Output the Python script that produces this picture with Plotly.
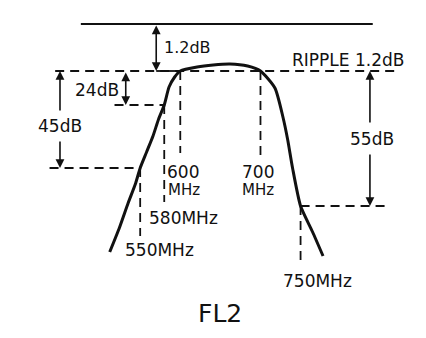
import plotly.graph_objects as go

# FL2 band-pass response sketch.
# x: frequency (MHz); y: drawing depth below the 0 dB reference (rows, downward).
FREQ_MHZ = [512, 524, 535, 544, 550, 558, 566, 573, 580, 586, 593, 600,
            621, 641, 662, 684, 700, 718, 728, 734, 740, 750, 765, 778]
DEPTH = [252, 228, 203, 184, 168, 152, 136, 119, 105, 87, 77, 71,
         67, 65, 64, 66, 71, 88, 117, 140, 168, 206, 232, 256]

# Marked frequencies on the skirts and passband edges
MARK_FREQS = [550, 580, 600, 700, 750]
MARK_TEXT = ["550MHz", "580MHz", "600", "700", "750MHz"]

# Dimension labels
RIPPLE_TEXT = "RIPPLE 1.2dB"
DIM_TEXT = ["1.2dB", "24dB", "45dB", "55dB"]
TITLE = "FL2"

INK = "#111111"
FONT = "DejaVu Sans"

# drawing rows of the reference levels
Y_REF, Y_PASS, Y_24, Y_45, Y_55 = 24, 71, 105, 168, 206

fig = go.Figure()

# response curve
fig.add_trace(go.Scatter(
    x=FREQ_MHZ, y=DEPTH, mode="lines",
    line=dict(color=INK, width=3, shape="spline", smoothing=0.6),
    hoverinfo="skip", showlegend=False))


def seg(x0, x1, y0, y1, dash=None, width=1.8):
    fig.add_trace(go.Scatter(
        x=[x0, x1], y=[y0, y1], mode="lines",
        line=dict(color=INK, width=width, dash=dash),
        hoverinfo="skip", showlegend=False))


DASH = "9px,6px"

# 0 dB reference line and passband level
seg(476, 840, Y_REF, Y_REF, width=2)
seg(444, 874, Y_PASS, Y_PASS, dash=DASH)
seg(570, 597, Y_PASS, Y_PASS, width=1.8)
# attenuation levels
seg(518, 580, Y_24, Y_24, dash=DASH)
seg(437, 550, Y_45, Y_45, dash=DASH)
seg(750, 858, Y_55, Y_55, dash=DASH)

# dashed drop lines at the marked frequencies
drop_spans = {550: (Y_45, 236), 580: (Y_24, 202), 600: (Y_PASS, 153),
              700: (Y_PASS, 155), 750: (Y_55, 266)}
for f in MARK_FREQS:
    y0, y1 = drop_spans[f]
    seg(f, f, y0, y1, dash=DASH)

annotations = []


def arrow(x, y_from, y_to, both=False):
    annotations.append(dict(
        x=x, y=y_to, ax=x, ay=y_from, xref="x", yref="y", axref="x", ayref="y",
        text="", showarrow=True, arrowhead=2, startarrowhead=2, arrowsize=1.1,
        startarrowsize=1.1, arrowwidth=1.6, arrowcolor=INK,
        arrowside="end+start" if both else "end"))


# 1.2 dB insertion loss, 24 dB, 45 dB, 55 dB dimensions
arrow(570, Y_REF, Y_PASS, both=True)
arrow(532, Y_PASS, Y_24, both=True)
arrow(450, 112, Y_PASS)
arrow(450, 140, Y_45)
arrow(836.5, 124, Y_PASS)
arrow(836.5, 153, Y_55)


def label(x, y, text, size=17, anchor="left"):
    annotations.append(dict(
        x=x, y=y, xref="x", yref="y", text=text, showarrow=False,
        xanchor=anchor, yanchor="middle",
        font=dict(family=FONT, size=size, color=INK)))


label(577, 47, DIM_TEXT[0], size=16)
label(496, 90, DIM_TEXT[1], anchor="center")
label(450, 126, DIM_TEXT[2], anchor="center")
label(839, 139, DIM_TEXT[3], anchor="center")
label(881, 60, RIPPLE_TEXT, anchor="right")

label(528.5, 250, MARK_TEXT[0])
label(558.5, 218, MARK_TEXT[1])
label(581, 172, MARK_TEXT[2])
label(582, 190, "MHz", size=15)
label(674.5, 172, MARK_TEXT[3])
label(674.5, 190, "MHz", size=15)
label(725.5, 281, MARK_TEXT[4])

label(649.5, 313, TITLE, size=25, anchor="center")

fig.update_layout(
    width=426, height=338, margin=dict(l=0, r=0, t=0, b=0),
    paper_bgcolor="white", plot_bgcolor="white",
    xaxis=dict(range=[375.2, 906.4], visible=False, fixedrange=True),
    yaxis=dict(range=[338, 0], visible=False, fixedrange=True),
    annotations=annotations, showlegend=False)

fig.write_html("out.html")
